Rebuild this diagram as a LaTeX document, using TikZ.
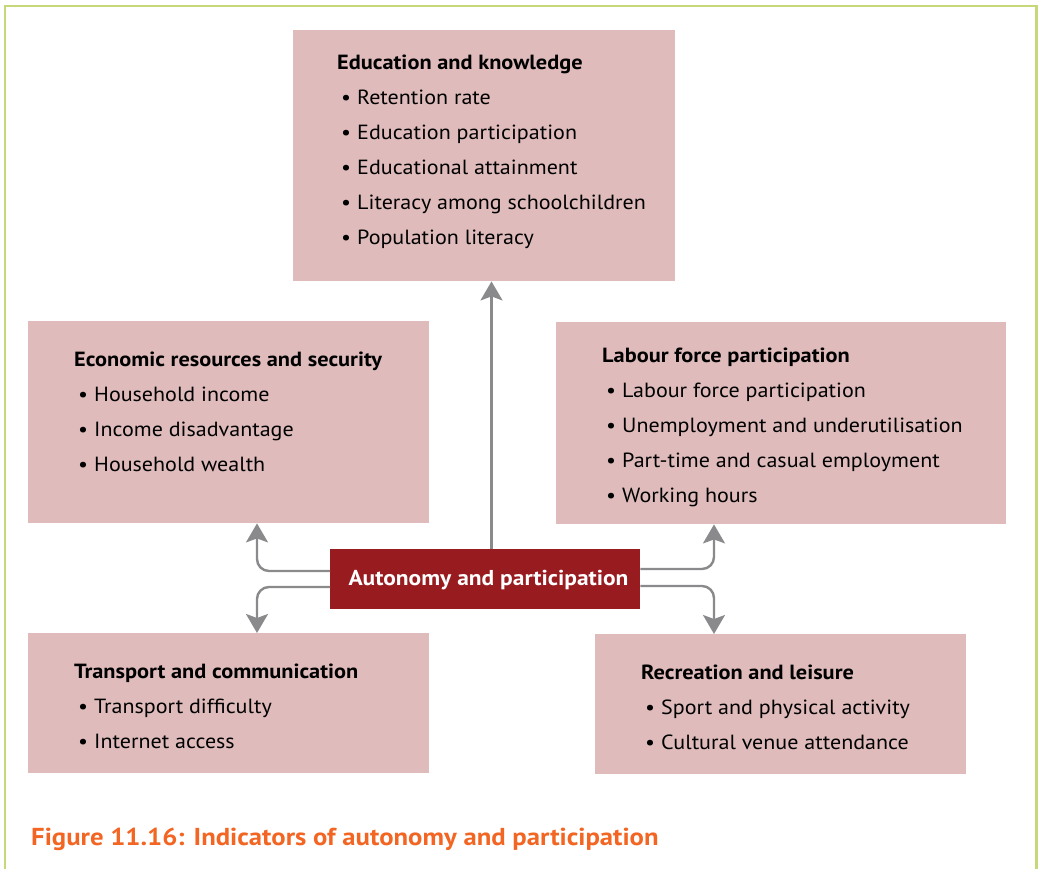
\documentclass[tikz,border=0pt]{standalone}
\usepackage{fontspec}
\setmainfont{PT Sans}[FakeStretch=1.075, BoldFeatures={FakeStretch=1.09}]
\usetikzlibrary{arrows.meta}

\definecolor{boxpink}{HTML}{DFBBBB}
\definecolor{hubred}{HTML}{981B1F}
\definecolor{linkgrey}{HTML}{8A8A8D}
\definecolor{framegreen}{HTML}{C5D97B}
\definecolor{captionorange}{HTML}{F26522}

\tikzset{
  panel/.style={fill=boxpink, draw=none},
  heading/.style={anchor=base west, inner sep=0pt, font=\fontsize{20.5}{24}\selectfont\bfseries},
  item/.style={anchor=base west, inner sep=0pt, font=\fontsize{20.5}{24}\selectfont},
  dot/.style={anchor=base west, inner sep=0pt, font=\fontsize{20.5}{24}\selectfont},
  link/.style={draw=linkgrey, line width=2.4pt, rounded corners=12pt,
    -{Stealth[length=19pt, width=22pt, inset=4pt]}},
}

\newcommand{\bulletline}[4]{%
  % #1 name, #2 x of the bullet, #3 baseline y, #4 text
  \node[dot] (#1-dot) at (#2,#3) {•};
  \node[item] (#1) at ({#2+16},#3) {#4};
}

\begin{document}
\begin{tikzpicture}[x=1pt, y=-1pt]
  \useasboundingbox (0,0) rectangle (1040,868);

  % frame
  \draw[framegreen, line width=2.4pt] (5,880) -- (5,6) -- (1036.5,6) -- (1036.5,880);

  % panels
  \node[panel, minimum width=382pt, minimum height=251pt, anchor=north west] (edu) at (293,30) {};
  \node[panel, minimum width=401pt, minimum height=202pt, anchor=north west] (eco) at (28,321) {};
  \node[panel, minimum width=450pt, minimum height=202pt, anchor=north west] (lab) at (556,322) {};
  \node[panel, minimum width=401pt, minimum height=140pt, anchor=north west] (tra) at (28,633) {};
  \node[panel, minimum width=371pt, minimum height=140pt, anchor=north west] (rec) at (595,634) {};
  \node[fill=hubred, minimum width=310pt, minimum height=60pt, anchor=north west,
        inner sep=0pt] (hub) at (330,549) {};
  \node[anchor=base, inner sep=0pt, text=white,
        font=\fontsize{21.5}{25}\selectfont\bfseries] (hubtext) at (488.5,585) {Autonomy and participation};

  % Education and knowledge
  \node[heading] (eduhead) at (337,69) {Education and knowledge};
  \bulletline{edu1}{341}{104}{Retention rate}
  \bulletline{edu2}{341}{139}{Education participation}
  \bulletline{edu3}{341}{174}{Educational attainment}
  \bulletline{edu4}{341}{209}{Literacy among schoolchildren}
  \bulletline{edu5}{341}{244}{Population literacy}

  % Economic resources and security
  \node[heading] (ecohead) at (74,366) {Economic resources and security};
  \bulletline{eco1}{78}{401}{Household income}
  \bulletline{eco2}{78}{436}{Income disadvantage}
  \bulletline{eco3}{78}{471}{Household wealth}

  % Labour force participation
  \node[heading] (labhead) at (602,362) {Labour force participation};
  \bulletline{lab1}{606}{397}{Labour force participation}
  \bulletline{lab2}{606}{432}{Unemployment and underutilisation}
  \bulletline{lab3}{606}{467}{Part-time and casual employment}
  \bulletline{lab4}{606}{502}{Working hours}

  % Transport and communication
  \node[heading] (trahead) at (74,678) {Transport and communication};
  \bulletline{tra1}{78}{713}{Transport difficulty}
  \bulletline{tra2}{78}{748}{Internet access}

  % Recreation and leisure
  \node[heading] (rechead) at (641,679) {Recreation and leisure};
  \bulletline{rec1}{645}{714}{Sport and physical activity}
  \bulletline{rec2}{645}{749}{Cultural venue attendance}

  % connectors from the hub
  \draw[link, rounded corners=0pt] (hub.north -| 491.5,0) -- (edu.south -| 491.5,0);
  \draw[link] (hub.west |- 0,571) -- (257,571) -- (eco.south -| 257,0);
  \draw[link] (hub.west |- 0,587) -- (257,587) -- (tra.north -| 257,0);
  \draw[link] (hub.east |- 0,569) -- (714,569) -- (lab.south -| 714,0);
  \draw[link] (hub.east |- 0,586) -- (714,586) -- (rec.north -| 714,0);

  % caption
  \node[anchor=base west, inner sep=0pt, text=captionorange,
        font=\fontsize{24.5}{28}\selectfont\bfseries] (caption) at (31,845)
        {Figure 11.16: Indicators of autonomy and participation};
\end{tikzpicture}
\end{document}
